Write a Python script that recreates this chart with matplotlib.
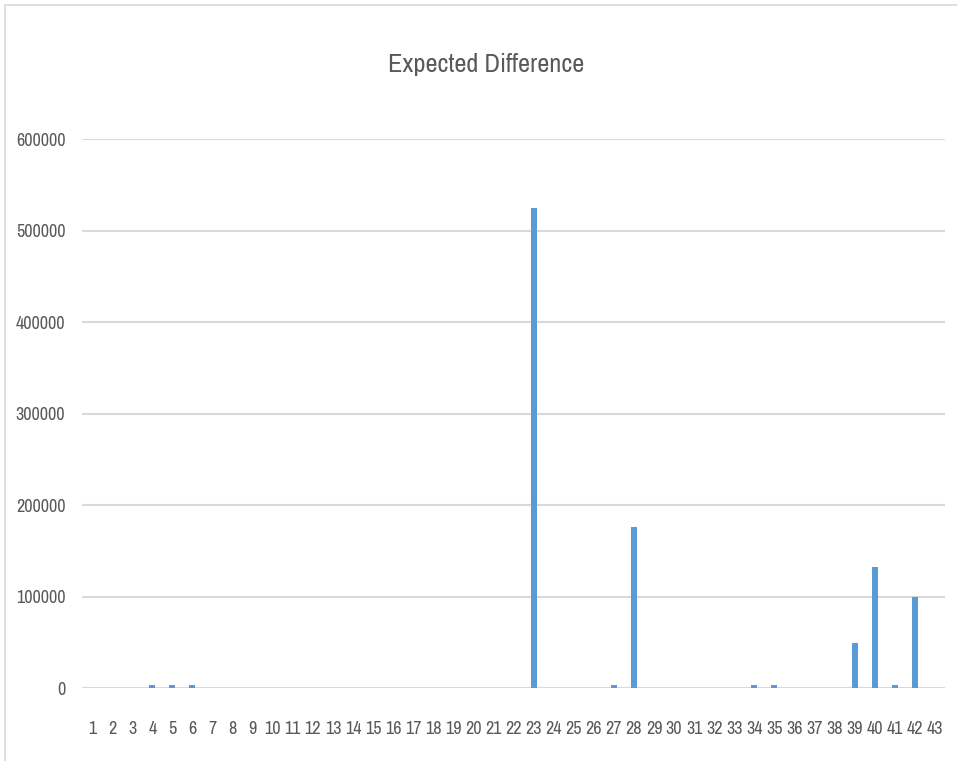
import matplotlib
matplotlib.use("Agg")
import matplotlib.pyplot as plt
from matplotlib import font_manager
from matplotlib.patches import Rectangle

# prefer a narrow face for the crowded category labels
installed = {f.name for f in font_manager.fontManager.ttflist}
narrow = [n for n in sorted(installed) if 'Narrow' in n or 'Condensed' in n]
families = narrow[:1] + ['Open Sans', 'DejaVu Sans']
plt.rcParams['font.family'] = families
has_narrow = bool(narrow)

categories = [str(i) for i in range(1, 44)]
values = [0, 0, 0, 3000, 3000, 3000, 0, 0, 0, 0,
          0, 0, 0, 0, 0, 0, 0, 0, 0, 0,
          0, 0, 525000, 0, 0, 0, 3000, 176000, 0, 0,
          0, 0, 0, 3000, 3000, 0, 0, 0, 49000, 132000,
          3000, 99500, 0]
yticks = [0, 100000, 200000, 300000, 400000, 500000, 600000]

fig = plt.figure(figsize=(9.57, 7.61), dpi=100)
ax = fig.add_axes([0.0857, 0.0959, 0.9018, 0.7214])

x = list(range(len(categories)))
ax.bar(x, values, width=0.3, color='#5B9BD5', zorder=3)

ax.set_xlim(-0.5, len(categories) - 0.5)
ax.set_ylim(0, 600000)
ax.set_yticks(yticks)
ax.set_yticklabels([str(v) for v in yticks])
ax.set_xticks(x)
ax.set_xticklabels(categories)

ax.grid(axis='y', color='#D9D9D9', linewidth=1.5, zorder=0)
for s in ax.spines.values():
    s.set_visible(False)
tick_size = 13 if has_narrow else 10.5
ax.tick_params(axis='both', length=0, colors='#595959', labelsize=tick_size)
ax.tick_params(axis='x', pad=24)
ax.tick_params(axis='y', pad=12)

fig.text(0.508, 0.915, 'Expected Difference', ha='center', va='center',
         fontsize=19 if has_narrow else 15.5, color='#595959')

# chart area border
fig.patches.append(Rectangle((0.005, -0.01), 1.2, 1.004, transform=fig.transFigure,
                             fill=False, edgecolor='#D9D9D9', linewidth=1.2))

fig.savefig('out.png', dpi=100, facecolor='white')
